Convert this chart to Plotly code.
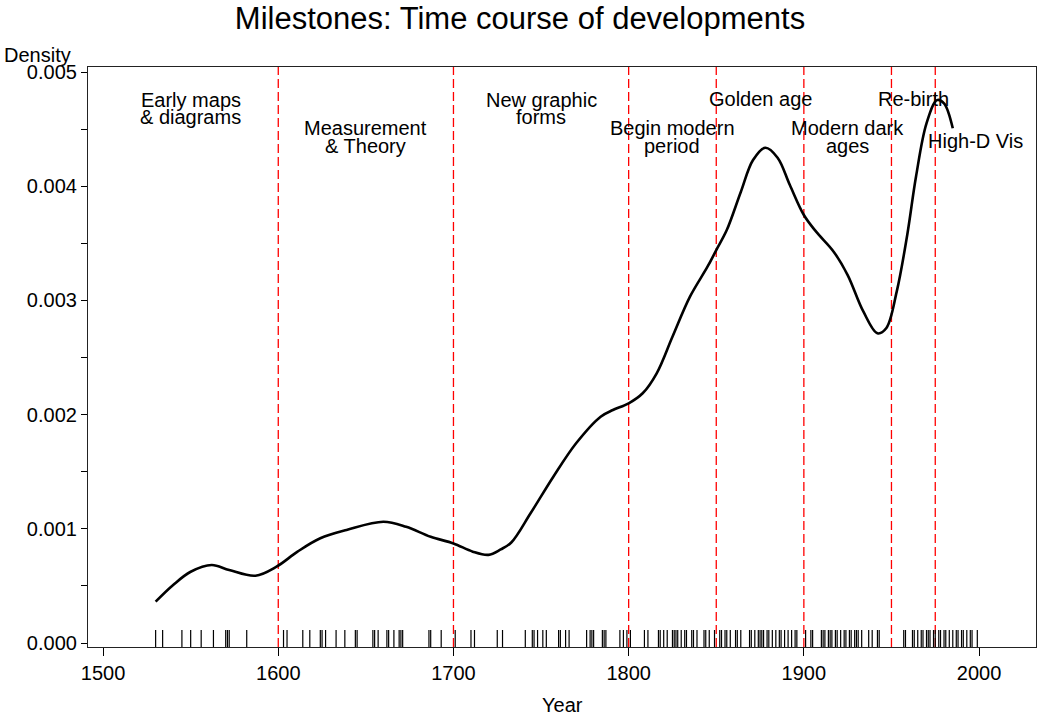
"""
Milestones density plot: time course of developments in data visualization.
"""
import plotly.graph_objects as go

FONT = "Liberation Sans, Arial, Helvetica, sans-serif"

# -- density curve (year, density) -------------------------------------------
CURVE_YEAR = [1530, 1540, 1550, 1562, 1572, 1587, 1599, 1611, 1624, 1639,
              1660, 1673, 1687, 1700, 1711, 1720, 1727, 1733, 1744, 1757,
              1770, 1784, 1791, 1800, 1808, 1816, 1825, 1835, 1845, 1850,
              1856, 1864, 1871, 1878, 1885, 1892, 1900, 1907, 1917, 1925,
              1934, 1942, 1947, 1953, 1959, 1964, 1970, 1976, 1980, 1985]
CURVE_DENS = [0.000362, 0.000508, 0.000624, 0.000683, 0.000639, 0.000589,
              0.000668, 0.000800, 0.000917, 0.000990, 0.001062, 0.001018,
              0.000930, 0.000872, 0.000800, 0.000772, 0.000820, 0.000880,
              0.001136, 0.001456, 0.001749, 0.001982, 0.002040, 0.002099,
              0.002187, 0.002362, 0.002682, 0.003033, 0.003295, 0.003441,
              0.003616, 0.003950, 0.004230, 0.004337, 0.004250, 0.004011,
              0.003748, 0.003602, 0.003427, 0.003222, 0.002901, 0.002712,
              0.002756, 0.003077, 0.003573, 0.004083, 0.004550, 0.004754,
              0.004726, 0.004507]

# -- milestone years shown as the rug ----------------------------------------
RUG_YEARS = [1530, 1534, 1545, 1550, 1556, 1563, 1570, 1571, 1572, 1582,
             1603, 1605, 1614, 1618, 1624, 1625, 1627, 1633, 1638, 1644, 1645,
             1654, 1655, 1657, 1662, 1663, 1666, 1669, 1670, 1671, 1686, 1687,
             1693, 1701, 1710, 1712, 1725, 1728, 1741, 1745, 1746, 1748, 1751,
             1753, 1760, 1761, 1764, 1766, 1776, 1778, 1779, 1780, 1785, 1786,
             1787, 1795, 1797, 1799, 1801, 1809, 1811, 1817, 1818, 1820, 1822,
             1825, 1826, 1827, 1828, 1830, 1832, 1833, 1836, 1837, 1839, 1843,
             1844, 1846, 1849, 1852, 1853, 1855, 1856, 1858, 1861, 1862, 1864,
             1869, 1870, 1872, 1874, 1875, 1876, 1877, 1879, 1880, 1882, 1884,
             1886, 1887, 1889, 1891, 1893, 1895, 1896, 1901, 1904, 1905, 1910,
             1911, 1912, 1914, 1915, 1916, 1918, 1919, 1921, 1923, 1924, 1926,
             1927, 1929, 1930, 1931, 1933, 1937, 1939, 1942, 1943, 1957, 1958,
             1962, 1963, 1965, 1967, 1968, 1970, 1971, 1972, 1974, 1975, 1977,
             1978, 1980, 1981, 1983, 1985, 1987, 1988, 1990, 1991, 1993, 1995,
             1996, 1999]

# -- epoch boundaries and labels ---------------------------------------------
DIVIDERS = [1600, 1700, 1800, 1850, 1900, 1950, 1975]
LABEL_TEXT = ["Early maps\n& diagrams", "Measurement\n& Theory",
              "New graphic\nforms", "Begin modern\nperiod", "Golden age",
              "Modern dark\nages", "Re-birth", "High-D Vis"]
LABEL_YEAR = [1550, 1650, 1750, 1825, 1875, 1925, 1962.5, 1998]
LABEL_DENS = [0.00468, 0.00443, 0.00468, 0.00443, 0.00476, 0.00443,
              0.00476, 0.00440]

Y_LO, Y_HI = -0.000035, 0.005044
RUG_TOP = 0.000114
LINE_GAP = 17.5  # px between label lines

traces = []

# rug
rx, ry = [], []
for yr in RUG_YEARS:
    rx += [yr, yr, None]
    ry += [Y_LO, RUG_TOP, None]
traces.append(go.Scatter(x=rx, y=ry, mode="lines",
                         line=dict(color="black", width=1.2),
                         hoverinfo="skip", showlegend=False))

# density curve
traces.append(go.Scatter(x=CURVE_YEAR, y=CURVE_DENS, mode="lines",
                         line=dict(color="black", width=2.6, shape="spline",
                                   smoothing=1.0),
                         showlegend=False))

fig = go.Figure(data=traces)

for yr in DIVIDERS:
    fig.add_shape(type="line", x0=yr, x1=yr, xref="x", yref="paper",
                  y0=0, y1=1, layer="below",
                  line=dict(color="red", width=1.3, dash="9px,4px"))

annotations = []
for text, yr, d in zip(LABEL_TEXT, LABEL_YEAR, LABEL_DENS):
    lines = text.split("\n")
    n = len(lines)
    for i, ln in enumerate(lines):
        annotations.append(dict(
            x=yr, y=d, xref="x", yref="y", text=ln, showarrow=False,
            xanchor="center", yanchor="middle",
            yshift=-(i - (n - 1) / 2) * LINE_GAP,
            font=dict(size=20, color="black", family=FONT),
        ))

annotations.append(dict(x=-0.016, y=1.021, xref="paper", yref="paper",
                        text="Density", showarrow=False, xanchor="right",
                        yanchor="middle",
                        font=dict(size=20, color="black", family=FONT)))
annotations.append(dict(x=0.5, y=-0.1, xref="paper", yref="paper",
                        text="Year", showarrow=False, xanchor="center",
                        yanchor="middle",
                        font=dict(size=20, color="black", family=FONT)))

fig.update_layout(
    width=1040, height=718,
    paper_bgcolor="white", plot_bgcolor="white",
    margin=dict(l=88, r=4, t=67, b=71),
    title=dict(text="Milestones: Time course of developments",
               x=0.5, xanchor="center", y=0.975, yanchor="middle",
               font=dict(size=31, color="black", family=FONT)),
    font=dict(family=FONT, color="black"),
    annotations=annotations,
    xaxis=dict(range=[1491.4, 2032.5], tick0=1500, dtick=100,
               ticks="outside", ticklen=8, tickcolor="black",
               showline=True, linecolor="#222", linewidth=1.2, mirror=True,
               showgrid=False, zeroline=False,
               tickfont=dict(size=20, color="black", family=FONT)),
    yaxis=dict(range=[Y_LO, Y_HI], tick0=0, dtick=0.001, tickformat=".3f",
               ticks="outside", ticklen=6, tickcolor="black",
               minor=dict(dtick=0.0005, tick0=0, ticks="outside", ticklen=6,
                          tickcolor="black"),
               showline=True, linecolor="#222", linewidth=1.2, mirror=True,
               showgrid=False, zeroline=False,
               tickfont=dict(size=20, color="black", family=FONT)),
    showlegend=False,
)

# drop the default page margin so the figure sits at the window's corner
fig.write_html("out.html", config={"displayModeBar": False},
               post_script="document.body.style.margin='0';")
